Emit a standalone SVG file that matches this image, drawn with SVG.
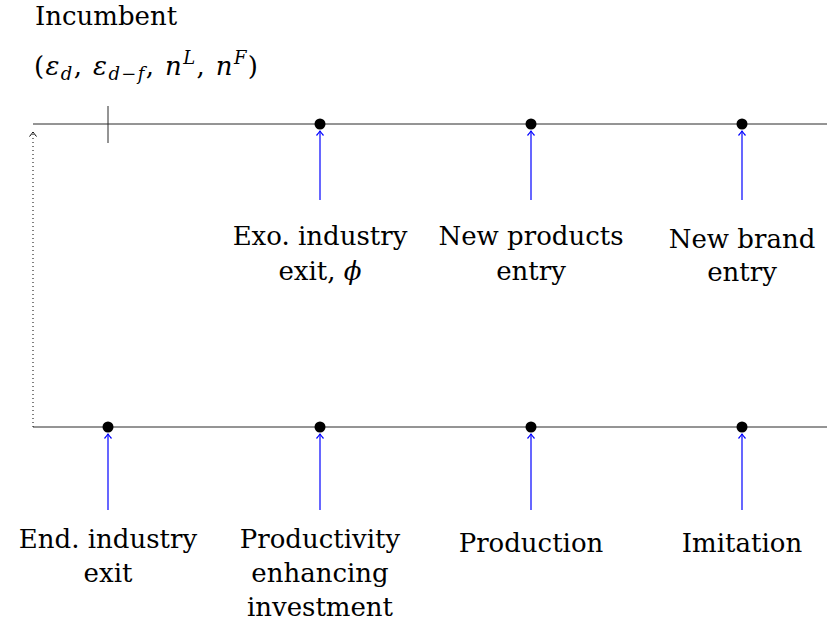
<svg xmlns="http://www.w3.org/2000/svg" width="827" height="637" viewBox="0 0 827 637">
<defs>
<style>
text{font-family:'DejaVu Serif','Liberation Serif',serif;font-size:26px;fill:#000}
.lbl{text-anchor:middle}
.axis{stroke:#2a2a2a;stroke-width:1;fill:none}
.arr{stroke:#0000ff;stroke-width:1.2;fill:none}
.dot{fill:#000}
.m{font-style:italic}
</style>
<marker id="ab" viewBox="-6 -5 8 10" refX="0" refY="0" markerWidth="8" markerHeight="10" markerUnits="userSpaceOnUse" orient="auto">
<path d="M-4.5,-3.5 Q-1.2,-0.8 0,0 Q-1.2,0.8 -4.5,3.5" stroke="#0000ff" stroke-width="1.2" fill="none"/>
</marker>
<marker id="ak" viewBox="-6 -5 8 10" refX="0" refY="0" markerWidth="8" markerHeight="10" markerUnits="userSpaceOnUse" orient="auto">
<path d="M-4.5,-3.5 Q-1.2,-0.8 0,0 Q-1.2,0.8 -4.5,3.5" stroke="#000" stroke-width="1" fill="none"/>
</marker>
</defs>
<rect width="827" height="637" fill="#fff"/>
<g id="title">
<text x="35" y="25">Incumbent</text>
<text x="34" y="75" textLength="224" lengthAdjust="spacing">(<tspan class="m">ε</tspan><tspan class="m" font-size="18" dy="5">d</tspan><tspan dy="-5">, </tspan><tspan class="m">ε</tspan><tspan font-size="18" dy="5"><tspan class="m">d</tspan>−<tspan class="m">f</tspan></tspan><tspan dy="-5">, </tspan><tspan class="m">n</tspan><tspan class="m" font-size="18" dy="-11">L</tspan><tspan dy="11">, </tspan><tspan class="m">n</tspan><tspan class="m" font-size="18" dy="-11">F</tspan><tspan dy="11">)</tspan></text>
</g>
<g id="timelines">
<line class="axis" x1="33" y1="124" x2="827" y2="124"/>
<line class="axis" x1="108" y1="106" x2="108" y2="143"/>
<line class="axis" x1="33" y1="427" x2="827" y2="427"/>
</g>
<g id="connectors">
<line x1="33" y1="427" x2="33" y2="132" stroke="#000" stroke-width="1" stroke-dasharray="1 3" marker-end="url(#ak)"/>
<line class="arr" x1="320" y1="200" x2="320" y2="131" marker-end="url(#ab)"/>
<line class="arr" x1="531" y1="200" x2="531" y2="131" marker-end="url(#ab)"/>
<line class="arr" x1="742" y1="200" x2="742" y2="131" marker-end="url(#ab)"/>
<line class="arr" x1="108" y1="510" x2="108" y2="434" marker-end="url(#ab)"/>
<line class="arr" x1="320" y1="510" x2="320" y2="434" marker-end="url(#ab)"/>
<line class="arr" x1="531" y1="510" x2="531" y2="434" marker-end="url(#ab)"/>
<line class="arr" x1="742" y1="510" x2="742" y2="434" marker-end="url(#ab)"/>
</g>
<g id="exo-exit">
<circle class="dot" cx="320" cy="124" r="5.5"/>
<text class="lbl" x="320" y="245">Exo. industry</text>
<text class="lbl" x="320" y="280">exit, <tspan class="m">ϕ</tspan></text>
</g>
<g id="new-products">
<circle class="dot" cx="531" cy="124" r="5.5"/>
<text class="lbl" x="531" y="245">New products</text>
<text class="lbl" x="531" y="280">entry</text>
</g>
<g id="new-brand">
<circle class="dot" cx="742" cy="124" r="5.5"/>
<text class="lbl" x="742" y="248">New brand</text>
<text class="lbl" x="742" y="281">entry</text>
</g>
<g id="end-exit">
<circle class="dot" cx="108" cy="427" r="5.5"/>
<text class="lbl" x="108" y="548">End. industry</text>
<text class="lbl" x="108" y="582">exit</text>
</g>
<g id="productivity">
<circle class="dot" cx="320" cy="427" r="5.5"/>
<text class="lbl" x="320" y="548">Productivity</text>
<text class="lbl" x="320" y="582">enhancing</text>
<text class="lbl" x="320" y="616">investment</text>
</g>
<g id="production">
<circle class="dot" cx="531" cy="427" r="5.5"/>
<text class="lbl" x="531" y="552">Production</text>
</g>
<g id="imitation">
<circle class="dot" cx="742" cy="427" r="5.5"/>
<text class="lbl" x="742" y="552">Imitation</text>
</g>
</svg>
